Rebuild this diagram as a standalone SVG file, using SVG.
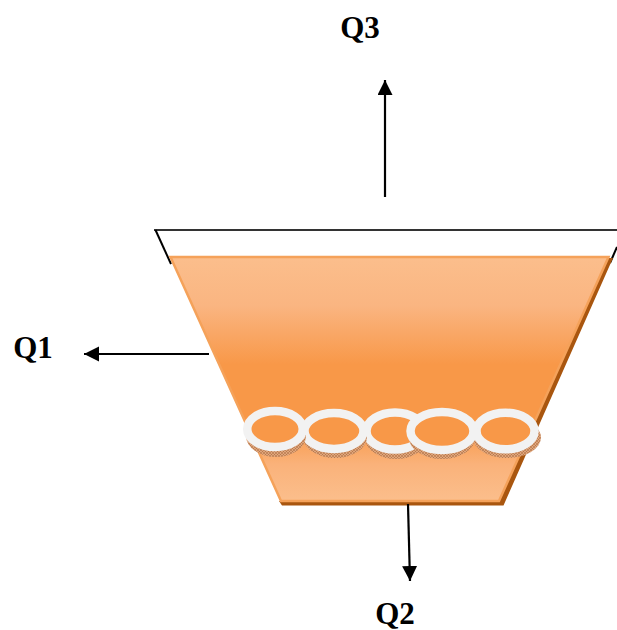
<svg xmlns="http://www.w3.org/2000/svg" width="617" height="630" viewBox="0 0 617 630">
<defs>
<linearGradient id="fill" gradientUnits="userSpaceOnUse" x1="0" y1="257" x2="0" y2="501">
<stop offset="0" stop-color="#fbbe8c"/>
<stop offset="0.2" stop-color="#fab581"/>
<stop offset="0.44" stop-color="#f89848"/>
<stop offset="0.7" stop-color="#f89848"/>
<stop offset="0.85" stop-color="#fab27a"/>
<stop offset="1" stop-color="#fbbe8c"/>
</linearGradient>
<pattern id="hatch" width="3" height="3" patternUnits="userSpaceOnUse">
<rect width="3" height="3" fill="#e0a67c"/>
<path d="M0 0L3 3M3 0L0 3" stroke="#a8683c" stroke-width="0.5"/>
</pattern>
<marker id="arrow" markerUnits="userSpaceOnUse" markerWidth="16" markerHeight="16" refX="15" refY="7.5" orient="auto">
<path d="M0 0L15 7.5L0 15Z" fill="#000"/>
</marker>
</defs>
<style>
.label{font-family:"Liberation Serif","Times New Roman",serif;font-size:31px;font-weight:700;fill:#000}
.conn{stroke:#000;stroke-width:2.2;fill:none;marker-end:url(#arrow)}
.ring{fill:#f89848;stroke:#f2f2f2;stroke-width:8.5}
.under{fill:url(#hatch)}
</style>
<g id="vessel">
<path d="M154 230H617" stroke="#333" stroke-width="2" fill="none"/>
<path d="M155.500 230L171 264" stroke="#000" stroke-width="2" fill="none"/>
<path d="M617 247L610 263" stroke="#000" stroke-width="2" fill="none"/>
<path d="M613 258L503.500 505.500H282L279 501H499L607 258Z" fill="#a9560f"/>
<path d="M170.500 257H608.500L499 501H281Z" fill="url(#fill)" stroke="#f5a25a" stroke-width="2.500"/>
</g>
<g id="connectors">
<path class="conn" d="M209 354H84"/>
<path class="conn" d="M385 197V80"/>
<path class="conn" d="M408 504L410 581"/>
</g>
<g id="ring-3"><ellipse cx="396" cy="438" rx="31" ry="21" class="under"/><ellipse cx="395" cy="431" rx="28.500" ry="18.500" class="ring"/></g>
<g id="ring-2"><ellipse cx="335" cy="437" rx="32" ry="21" class="under"/><ellipse cx="334" cy="431" rx="29.500" ry="18" class="ring"/></g>
<g id="ring-1"><ellipse cx="276" cy="436" rx="30" ry="21" class="under"/><ellipse cx="275" cy="429" rx="27.750" ry="18" class="ring"/></g>
<g id="ring-5"><ellipse cx="507" cy="437.500" rx="34" ry="20.500" class="under"/><ellipse cx="505.500" cy="431" rx="29" ry="18.250" class="ring"/></g>
<g id="ring-4"><ellipse cx="442" cy="438" rx="33" ry="21" class="under"/><ellipse cx="442" cy="431" rx="31.500" ry="19" class="ring"/></g>
<g id="label-q3"><text class="label" x="360" y="38" text-anchor="middle">Q3</text></g>
<g id="label-q1"><text class="label" x="33" y="358" text-anchor="middle">Q1</text></g>
<g id="label-q2"><text class="label" x="395" y="624" text-anchor="middle">Q2</text></g>
</svg>
